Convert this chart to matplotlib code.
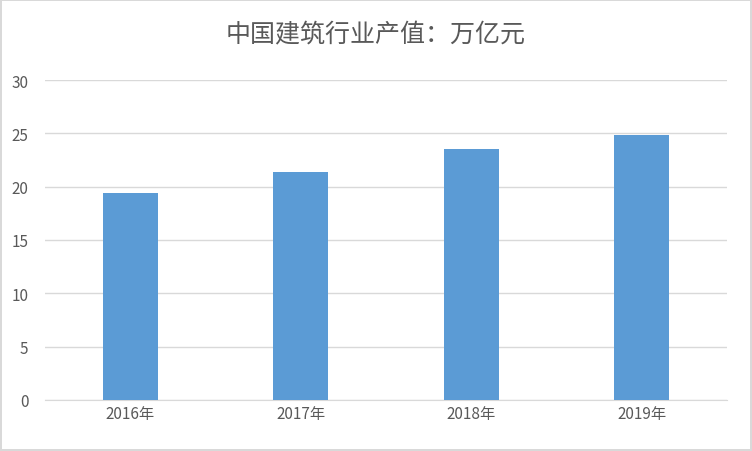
import matplotlib
matplotlib.use("Agg")
import matplotlib.pyplot as plt

plt.rcParams['font.family'] = ['Noto Sans CJK SC', 'DejaVu Sans']

categories = ["2016年", "2017年", "2018年", "2019年"]
values = [19.36, 21.39, 23.51, 24.84]
yticks = [0, 5, 10, 15, 20, 25, 30]

fig = plt.figure(figsize=(7.52, 4.52), dpi=100)
fig.patch.set_edgecolor("#d9d9d9")
fig.patch.set_linewidth(1.5)
ax = fig.add_axes([45/752, 1-401/452, (727-45)/752, (401-81)/452])
x = range(len(categories))
ax.bar(x, values, width=0.32, color="#5b9bd5", zorder=3)
ax.set_xlim(-0.5, 3.5)
ax.set_ylim(0, 30)
ax.set_yticks(yticks)
ax.set_xticks(list(x))
ax.set_xticklabels(categories)
ax.grid(axis="y", color="#d9d9d9", linewidth=1, zorder=0)
for s in ["top", "right", "left"]:
    ax.spines[s].set_visible(False)
ax.spines["bottom"].set_color("#d9d9d9")
ax.tick_params(axis="both", length=0, labelsize=11, colors="#595959")
ax.tick_params(axis="y", pad=12)
fig.text(0.5, 1-35/452, "中国建筑行业产值：万亿元", ha="center", va="center",
         fontsize=18, color="#595959")
fig.savefig("out.png", dpi=100, edgecolor=fig.get_edgecolor())
